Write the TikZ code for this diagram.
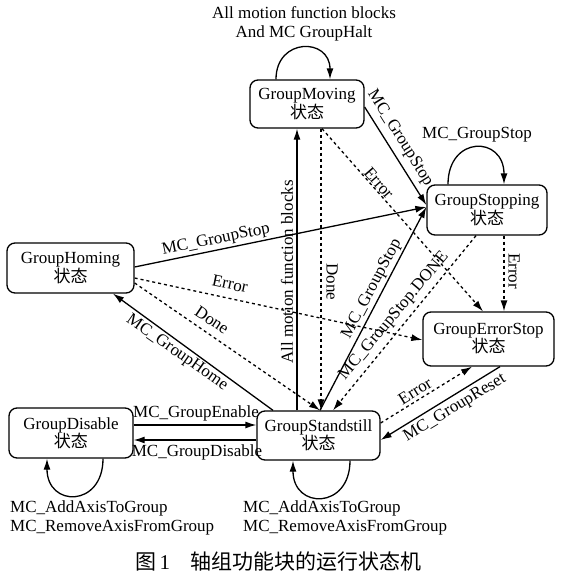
\documentclass[tikz,border=0pt]{standalone}
\usepackage{fontspec}
\setmainfont{Liberation Serif}
\newfontfamily\cjk{Noto Sans CJK SC}
\usetikzlibrary{arrows.meta,calc}
\tikzset{
  state/.style={draw, rounded corners=8pt, line width=1.3pt, align=center, inner sep=0pt, font=\fontsize{17}{18}\selectfont},
  lbl/.style={font=\fontsize{17}{19}\selectfont, inner sep=0pt},
  sarrow/.style={line width=1.3pt, -{Latex[length=11pt,width=7pt]}},
  darrow/.style={sarrow, dash pattern=on 3pt off 3pt}
}
\begin{document}
\begin{tikzpicture}[x=1pt,y=-1pt]
\useasboundingbox (0,0) rectangle (562,576);
% states
\node[state, minimum width=114pt, minimum height=48pt] (moving) at (307,104) {GroupMoving\\{\cjk 状态}};
\node[state, minimum width=120pt, minimum height=50pt] (stopping) at (487,210) {GroupStopping\\{\cjk 状态}};
\node[state, minimum width=127pt, minimum height=50pt] (homing) at (70.5,268) {GroupHoming\\{\cjk 状态}};
\node[state, minimum width=131pt, minimum height=54pt] (errorstop) at (488.5,339) {GroupErrorStop\\{\cjk 状态}};
\node[state, minimum width=123pt, minimum height=49pt] (standstill) at (318.5,435.5) {GroupStandstill\\{\cjk 状态}};
\node[state, minimum width=124pt, minimum height=50pt] (disable) at (71,433) {GroupDisable\\{\cjk 状态}};
% transitions
\draw[sarrow] ($(disable.east)+(0,-8)$) -- ($(standstill.west)+(0,-10.5)$);
\draw[sarrow] ($(standstill.west)+(0,4.5)$) -- ($(disable.east)+(0,7)$);
\draw[sarrow] ($(standstill.north)+(-45.5,0)$) -- ($(homing.south)+(42.5,0)$);
\draw[sarrow] ($(homing.east)+(0,-1)$) -- ($(stopping.west)+(0,-3)$);
\draw[darrow] ($(homing.east)+(0,10)$) -- ($(errorstop.west)+(0,1)$);
\draw[darrow] ($(homing.east)+(0,15)$) -- ($(standstill.north)+(1.5,0)$);
\draw[sarrow] ($(standstill.north)+(-21.5,0)$) -- ($(moving.south)+(-10,0)$);
\draw[darrow] ($(moving.south)+(14,0)$) -- ($(standstill.north)+(2.5,0)$);
\draw[darrow] ($(moving.south)+(15,0)$) -- ($(errorstop.north)+(-5.5,0)$);
\draw[sarrow] ($(moving.east)+(0,3)$) -- ($(stopping.west)+(0,-5)$);
\draw[sarrow] ($(standstill.north)+(1.5,0)$) -- ($(stopping.west)+(0,-3)$);
\draw[darrow] ($(stopping.south)+(17,0)$) -- ($(errorstop.north)+(15.5,0)$);
\draw[darrow] ($(stopping.south)+(-11,0)$) -- ($(standstill.north)+(14.5,0)$);
\draw[sarrow] ($(errorstop.south)+(11.5,0)$) -- ($(standstill.east)+(0,4.5)$);
\draw[darrow] ($(standstill.east)+(0,-12.5)$) -- ($(errorstop.south)+(-16.5,0)$);
% self loops
\draw[sarrow] ($(moving.north)+(-31,0)$) .. controls +(0,-42) and +(0,-42) .. ($(moving.north)+(23,0)$);
\draw[sarrow] ($(stopping.north)+(-39,0)$) .. controls +(0,-49) and +(0,-49) .. ($(stopping.north)+(17,0)$);
\draw[sarrow] ($(disable.south)+(32,0)$) .. controls +(0,49) and +(0,49) .. ($(disable.south)+(-24,0)$);
\draw[sarrow] ($(standstill.south)+(31.5,0)$) .. controls +(0,49) and +(0,49) .. ($(standstill.south)+(-25.5,0)$);
% labels
\node[lbl, align=center] (lmov) at (304,24) {All motion function blocks\\And MC GroupHalt};
\node[lbl] (lstop) at (477,135) {MC\_GroupStop};
\node[lbl, align=left, anchor=west] (ldis) at (10,518) {MC\_AddAxisToGroup\\MC\_RemoveAxisFromGroup};
\node[lbl, align=left, anchor=west] (lstand) at (243,518) {MC\_AddAxisToGroup\\MC\_RemoveAxisFromGroup};
\node[lbl] (lenable) at (196,413) {MC\_GroupEnable};
\node[lbl] (ldisable) at (197,452) {MC\_GroupDisable};
\node[lbl, rotate=-35] (lhome) at (177,353) {MC\_GroupHome};
\node[lbl, rotate=11.6] (lhs) at (216,240) {MC\_GroupStop};
\node[lbl, rotate=-12] (lherr) at (230,284) {Error};
\node[lbl, rotate=-34] (lhdone) at (212,320) {Done};
\node[lbl, rotate=90] (lall) at (287,272) {All motion function blocks};
\node[lbl, rotate=-90] (lmdone) at (332,282) {Done};
\node[lbl, rotate=-49] (lmerr) at (379,183) {Error};
\node[lbl, rotate=-58] (lms) at (400,138) {MC\_GroupStop};
\node[lbl, rotate=-90] (lserr) at (514,271) {Error};
\node[lbl, rotate=50] (lsdone) at (394,316) {MC\_GroupStop.DONE};
\node[lbl, rotate=62] (lss) at (372,289) {MC\_GroupStop};
\node[lbl, rotate=31] (lreset) at (455,408) {MC\_GroupReset};
\node[lbl, rotate=32] (lerr2) at (415,391) {Error};
% caption
\node[anchor=west, font=\fontsize{21}{24}\selectfont, inner sep=0pt] (cap) at (135,562) {{\cjk 图}\,1\hspace{20pt}{\cjk 轴组功能块的运行状态机}};
\end{tikzpicture}
\end{document}
